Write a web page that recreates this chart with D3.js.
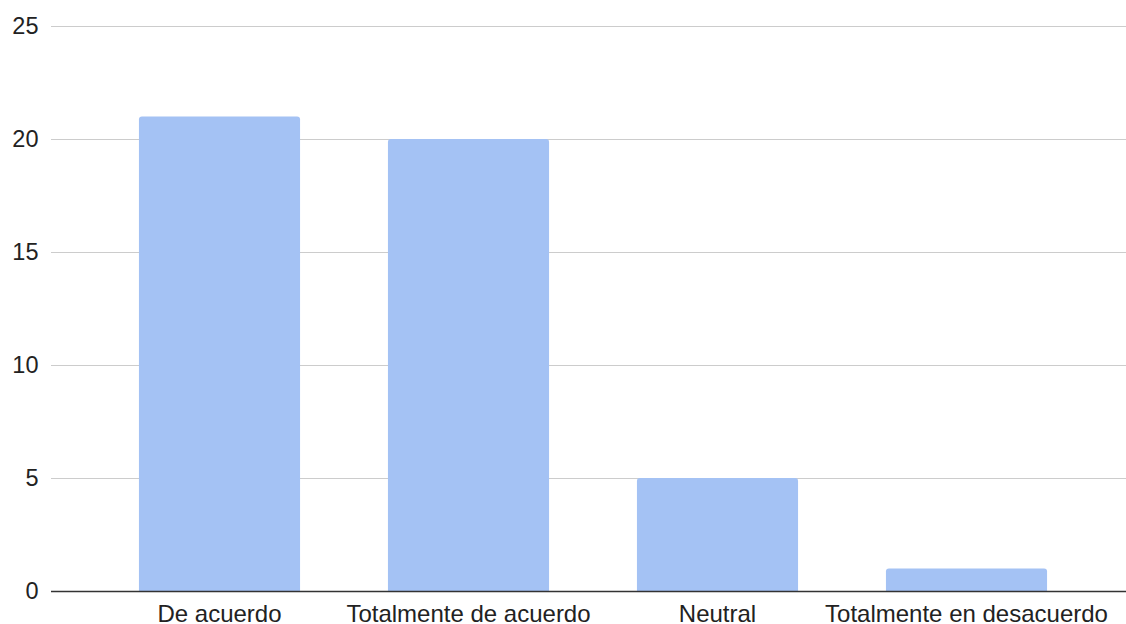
<!DOCTYPE html>
<html><head><meta charset="utf-8">
<script src="https://cdn.jsdelivr.net/npm/d3@7"></script>
<style>html,body{margin:0;padding:0;background:#fff;}svg{display:block;}</style>
</head><body>
<svg id="c" width="1126" height="624"></svg>
<script>
const categories = ["De acuerdo", "Totalmente de acuerdo", "Neutral", "Totalmente en desacuerdo"];
const values = [21, 20, 5, 1];
const yTicks = [0, 5, 10, 15, 20, 25];

const svg = d3.select("#c");
const font = "'Liberation Sans', Arial, sans-serif";
const y = d3.scaleLinear().domain([0, 25]).range([591, 26]);
const x = d3.scaleBand().domain(categories).range([95, 1091]).paddingInner(0.353).paddingOuter(0.1765);

// grid
svg.append("g").selectAll("line").data(yTicks.filter(d => d > 0)).join("line")
  .attr("x1", 51).attr("x2", 1126)
  .attr("y1", d => y(d) + 0.5).attr("y2", d => y(d) + 0.5)
  .attr("stroke", "#cccccc").attr("stroke-width", 1);

// y labels
svg.append("g").selectAll("text").data(yTicks).join("text")
  .attr("x", 38.5).attr("y", d => y(d)).attr("dy", "0.36em")
  .attr("text-anchor", "end").attr("font-family", font).attr("font-size", 23.5)
  .attr("fill", "#222").text(d => d);

// bars with rounded top corners
const r = 3;
svg.append("g").selectAll("path").data(values).join("path")
  .attr("fill", "#a4c2f4")
  .attr("d", (d, i) => {
    const x0 = x(categories[i]), w = x.bandwidth(), y0 = y(d), yb = y(0);
    return `M${x0},${yb}V${y0 + r}Q${x0},${y0} ${x0 + r},${y0}H${x0 + w - r}Q${x0 + w},${y0} ${x0 + w},${y0 + r}V${yb}Z`;
  });

// baseline
svg.append("line").attr("x1", 51).attr("x2", 1126)
  .attr("y1", y(0) + 0.5).attr("y2", y(0) + 0.5)
  .attr("stroke", "#333333").attr("stroke-width", 1.5);

// x labels
svg.append("g").selectAll("text").data(categories).join("text")
  .attr("x", d => x(d) + x.bandwidth() / 2).attr("y", 622)
  .attr("text-anchor", "middle").attr("font-family", font).attr("font-size", 24)
  .attr("fill", "#222").text(d => d);
</script>
</body></html>
